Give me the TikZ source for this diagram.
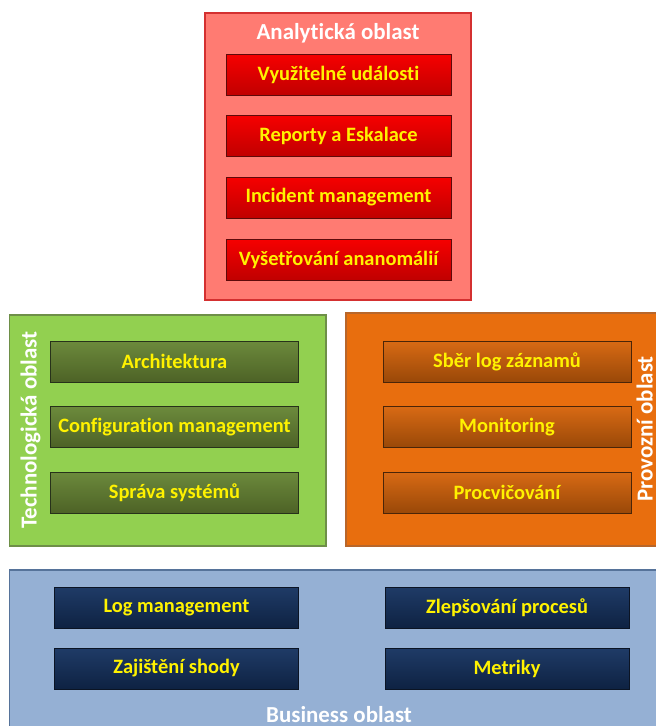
\documentclass[tikz,border=0pt]{standalone}
\usepackage{fontspec}
\setmainfont{Carlito}[Ligatures={NoCommon}]
\begin{document}
\begin{tikzpicture}[x=1bp,y=-1bp,
  area/.style={inner sep=0pt, line width=1.2bp},
  areatitle/.style={text=white, font=\bfseries\fontsize{23}{23}\selectfont, inner sep=0pt, anchor=base},
  item/.style={inner sep=0pt, minimum height=41bp, line width=1bp, text=yellow,
    font=\bfseries\fontsize{20.5}{20.5}\selectfont},
]
\definecolor{redA}{HTML}{F60000}
\definecolor{redB}{HTML}{C00000}
\definecolor{redline}{HTML}{5E0A0A}
\definecolor{oliveA}{HTML}{6C8A3C}
\definecolor{oliveB}{HTML}{4D6226}
\definecolor{oliveline}{HTML}{27321A}
\definecolor{orangeA}{HTML}{D86A14}
\definecolor{orangeB}{HTML}{994808}
\definecolor{orangeline}{HTML}{4A2508}
\definecolor{blueA}{HTML}{1F3B67}
\definecolor{blueB}{HTML}{0E2242}
\definecolor{blueline}{HTML}{0B1424}
\definecolor{salmon}{HTML}{FF7B72}
\definecolor{salmonline}{HTML}{D43030}
\definecolor{leaf}{HTML}{92D050}
\definecolor{leafline}{HTML}{6E8F48}
\definecolor{pumpkin}{HTML}{E86E0E}
\definecolor{pumpkinline}{HTML}{B8662A}
\definecolor{sky}{HTML}{95B0D4}
\definecolor{skyline}{HTML}{56739A}
\tikzset{
  redbox/.style={item, draw=redline, top color=redA, bottom color=redB, minimum width=225bp},
  greenbox/.style={item, draw=oliveline, top color=oliveA, bottom color=oliveB, minimum width=247bp},
  orangebox/.style={item, draw=orangeline, top color=orangeA, bottom color=orangeB, minimum width=248bp},
  bluebox/.style={item, draw=blueline, top color=blueA, bottom color=blueB, minimum width=244bp},
}
\useasboundingbox (0,0) rectangle (656,726);

% ---- areas ----
\node[area, draw=salmonline, fill=salmon, minimum width=266bp, minimum height=287bp] (analytic) at (338,156.5) {};
\node[area, draw=leafline, fill=leaf, minimum width=316.5bp, minimum height=231bp] (tech) at (167.75,430.5) {};
\node[area, draw=pumpkinline, fill=pumpkin, minimum width=324bp, minimum height=233bp] (ops) at (508,429.5) {};
\node[area, draw=skyline, fill=sky, minimum width=660bp, minimum height=180bp] (business) at (339.5,660) {};

% ---- area titles ----
\node[areatitle] (analyticT) at (338,39.5) {Analytická oblast};
\node[areatitle, rotate=90] (techT) at (36.5,430) {Technologická oblast};
\node[areatitle, rotate=90] (opsT) at (652.5,429) {Provozní oblast};
\node[areatitle] (businessT) at (339,722) {Business oblast};

% ---- analytic items ----
\node[redbox] (a1) at (338.5,75) {Využitelné události};
\node[redbox] (a2) at (338.5,136) {Reporty a Eskalace};
\node[redbox] (a3) at (338.5,197.5) {Incident management};
\node[redbox] (a4) at (338.5,259.5) {Vyšetřování ananomálií};

% ---- technology items ----
\node[greenbox] (t1) at (174.5,361.5) {Architektura};
\node[greenbox] (t2) at (174.5,427) {Configuration management};
\node[greenbox] (t3) at (174.5,492.5) {Správa systémů};

% ---- operations items ----
\node[orangebox] (o1) at (507,361.5) {Sběr log záznamů};
\node[orangebox] (o2) at (507,427) {Monitoring};
\node[orangebox] (o3) at (507,492.5) {Procvičování};

% ---- business items ----
\node[bluebox] (b1) at (176.5,607.5) {Log management};
\node[bluebox] (b2) at (176.5,668.5) {Zajištění shody};
\node[bluebox] (b3) at (507,607.5) {Zlepšování procesů};
\node[bluebox] (b4) at (507,668.5) {Metriky};
\end{tikzpicture}
\end{document}
